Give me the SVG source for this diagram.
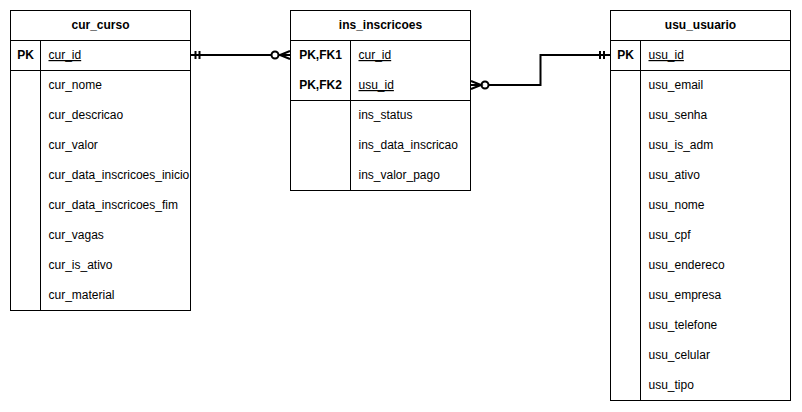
<svg xmlns="http://www.w3.org/2000/svg" width="802" height="412" viewBox="0 0 802 412">
<style>
.box{fill:#fff;stroke:#000;stroke-width:1}
.ln{stroke:#000;stroke-width:1;fill:none}
text{font-family:"Liberation Sans",Arial,sans-serif;font-size:12px;fill:#000}
.h{font-weight:bold;text-anchor:middle}
.k{font-weight:bold;text-anchor:middle}
.u{text-decoration:underline}
.c{stroke:#000;stroke-width:2;fill:none}
</style>
<rect width="802" height="412" fill="#fff"/>
<g id="cur_curso">
<rect class="box" x="10.5" y="10.5" width="180" height="300"/>
<line class="ln" x1="10.5" y1="40.5" x2="190.5" y2="40.5"/>
<line class="ln" x1="10.5" y1="70.5" x2="190.5" y2="70.5"/>
<line class="ln" x1="40.5" y1="40.5" x2="40.5" y2="310.5"/>
<text class="h" x="100.5" y="29">cur_curso</text>
<text class="k" x="25.5" y="59">PK</text>
<text class="u" x="48.5" y="59">cur_id</text>
<text x="48.5" y="89">cur_nome</text>
<text x="48.5" y="119">cur_descricao</text>
<text x="48.5" y="149">cur_valor</text>
<text x="48.5" y="179">cur_data_inscricoes_inicio</text>
<text x="48.5" y="209">cur_data_inscricoes_fim</text>
<text x="48.5" y="239">cur_vagas</text>
<text x="48.5" y="269">cur_is_ativo</text>
<text x="48.5" y="299">cur_material</text>
</g>
<g id="ins_inscricoes">
<rect class="box" x="290.5" y="10.5" width="180" height="180"/>
<line class="ln" x1="290.5" y1="40.5" x2="470.5" y2="40.5"/>
<line class="ln" x1="290.5" y1="100.5" x2="470.5" y2="100.5"/>
<line class="ln" x1="350.5" y1="40.5" x2="350.5" y2="190.5"/>
<text class="h" x="380.5" y="29">ins_inscricoes</text>
<text class="k" x="320.5" y="59">PK,FK1</text>
<text class="k" x="320.5" y="89">PK,FK2</text>
<text class="u" x="358.5" y="59">cur_id</text>
<text class="u" x="358.5" y="89">usu_id</text>
<text x="358.5" y="119">ins_status</text>
<text x="358.5" y="149">ins_data_inscricao</text>
<text x="358.5" y="179">ins_valor_pago</text>
</g>
<g id="usu_usuario">
<rect class="box" x="610.5" y="10.5" width="180" height="390"/>
<line class="ln" x1="610.5" y1="40.5" x2="790.5" y2="40.5"/>
<line class="ln" x1="610.5" y1="70.5" x2="790.5" y2="70.5"/>
<line class="ln" x1="640.5" y1="40.5" x2="640.5" y2="400.5"/>
<text class="h" x="700.5" y="29">usu_usuario</text>
<text class="k" x="625.5" y="59">PK</text>
<text class="u" x="648.5" y="59">usu_id</text>
<text x="648.5" y="89">usu_email</text>
<text x="648.5" y="119">usu_senha</text>
<text x="648.5" y="149">usu_is_adm</text>
<text x="648.5" y="179">usu_ativo</text>
<text x="648.5" y="209">usu_nome</text>
<text x="648.5" y="239">usu_cpf</text>
<text x="648.5" y="269">usu_endereco</text>
<text x="648.5" y="299">usu_empresa</text>
<text x="648.5" y="329">usu_telefone</text>
<text x="648.5" y="359">usu_celular</text>
<text x="648.5" y="389">usu_tipo</text>
</g>
<g id="connectors">
<path class="c" d="M190.5 55 H271.5"/>
<path class="c" d="M195.5 51 V59 M199.5 51 V59"/>
<circle class="c" cx="275" cy="55" r="3.5"/>
<path class="c" d="M290 51 L280 55 L290 59 M278.5 55 H290"/>
<path class="c" d="M488.5 85 H540.5 V55 H610"/>
<path class="c" d="M600 51 V59 M604 51 V59"/>
<circle class="c" cx="485" cy="85" r="3.5"/>
<path class="c" d="M471 81 L481 85 L471 89 M471 85 H481.5"/>
</g>
</svg>
